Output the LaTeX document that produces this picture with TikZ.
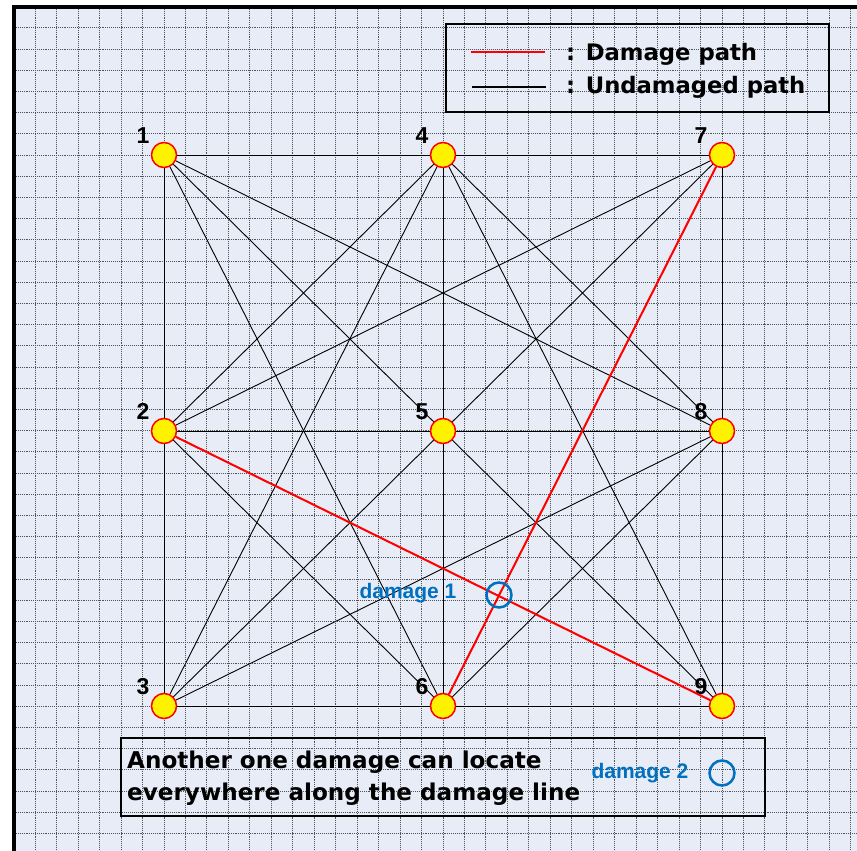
\documentclass[tikz,border=0pt]{standalone}
\usepackage{fontspec}
\newfontfamily\gothic{DejaVu Sans}
\newfontfamily\arialfont{Liberation Sans}
\usetikzlibrary{calc}
\definecolor{paper}{HTML}{E7ECF6}
\definecolor{dmgblue}{HTML}{0070C0}
\definecolor{gridc}{HTML}{50555C}

\begin{document}
\begin{tikzpicture}[x=1pt,y=-1pt,
  gridline/.style={gridc, line width=0.9pt, densely dotted},
  sensor/.style={circle, draw=red, fill=yellow, line width=1.5pt, minimum size=25pt, inner sep=0pt},
  link/.style={line width=0.9pt, black},
  dmglink/.style={line width=2pt, red},
  num/.style={font=\arialfont\bfseries\fontsize{23}{23}\selectfont, anchor=base, inner sep=0pt},
  legendtxt/.style={font=\gothic\bfseries\fontsize{22.7}{22.7}\selectfont, anchor=base west, inner sep=0pt},
  notetxt/.style={font=\gothic\bfseries\fontsize{23.1}{23.1}\selectfont, anchor=base west, inner sep=0pt},
  dmgtxt/.style={font=\arialfont\bfseries\fontsize{21}{21}\selectfont, text=dmgblue, inner sep=0pt},
  dmgmark/.style={circle, draw=dmgblue, line width=2.5pt, minimum size=25pt, inner sep=0pt},
  frame/.style={draw=black, line width=1.5pt, inner sep=0pt}
]
\useasboundingbox (0,0) rectangle (857,851);
\fill[white] (0,0) rectangle (857,851);
\fill[paper] (14,7) rectangle (857,851);

% dotted grid
\begin{scope}
  \clip (16,9) rectangle (857,851);
  \foreach \k in {-6,...,32} {
    \draw[gridline] ({164+21.46*\k},9) -- ({164+21.46*\k},851);
    \draw[gridline] (16,{155+21.2*\k}) -- (857,{155+21.2*\k});
  }
\end{scope}

% sheet border
\draw[line width=4pt] (14,851) -- (14,7) -- (857,7);

% sensors
\node[sensor] (n1) at (164,155) {};
\node[sensor] (n4) at (443,155) {};
\node[sensor] (n7) at (722,155) {};
\node[sensor] (n2) at (164,431) {};
\node[sensor] (n5) at (443,431) {};
\node[sensor] (n8) at (722,431) {};
\node[sensor] (n3) at (164,706) {};
\node[sensor] (n6) at (443,706) {};
\node[sensor] (n9) at (722,706) {};

% sensor numbers
\foreach \n in {1,...,9}
  \node[num] (l\n) at ($(n\n)+(-21,-12)$) {\n};

% undamaged paths
\foreach \a/\b in {1/4,4/7,2/5,5/8,3/6,6/9,
                   1/2,2/3,4/5,5/6,7/8,8/9,
                   1/5,5/9,7/5,5/3,2/4,4/8,2/6,6/8,
                   1/6,1/8,4/3,4/9,7/2,8/3}
  \draw[link] (n\a) -- (n\b);

% damage paths
\draw[dmglink] (n2) -- (n9);
\draw[dmglink] (n6) -- (n7);

% damage markers
\node[dmgmark] (d1) at (499,595) {};
\node[dmgtxt] (t1) at (408,593) {damage 1};
\node[dmgmark] (d2) at (722,773) {};
\node[dmgtxt] (t2) at (640,773) {damage 2};

% legend
\node[frame, minimum width=383pt, minimum height=88pt] (legend) at (637.5,68) {};
\coordinate (r1) at (471,52);
\coordinate (r2) at (545,52);
\coordinate (b1) at (472,87);
\coordinate (b2) at (546,87);
\draw[dmglink, line width=2.5pt] (r1) -- (r2);
\draw[link, line width=1.2pt] (b1) -- (b2);
\node[legendtxt] (lg1) at (566,61) {: Damage path};
\node[legendtxt] (lg2) at (566,93) {: Undamaged path};

% note box
\node[frame, minimum width=644pt, minimum height=78pt] (note) at (443,777) {};
\node[notetxt] (note1) at (127,768) {Another one damage can locate};
\node[notetxt] (note2) at (127,800) {everywhere along the damage line};
\end{tikzpicture}
\end{document}
